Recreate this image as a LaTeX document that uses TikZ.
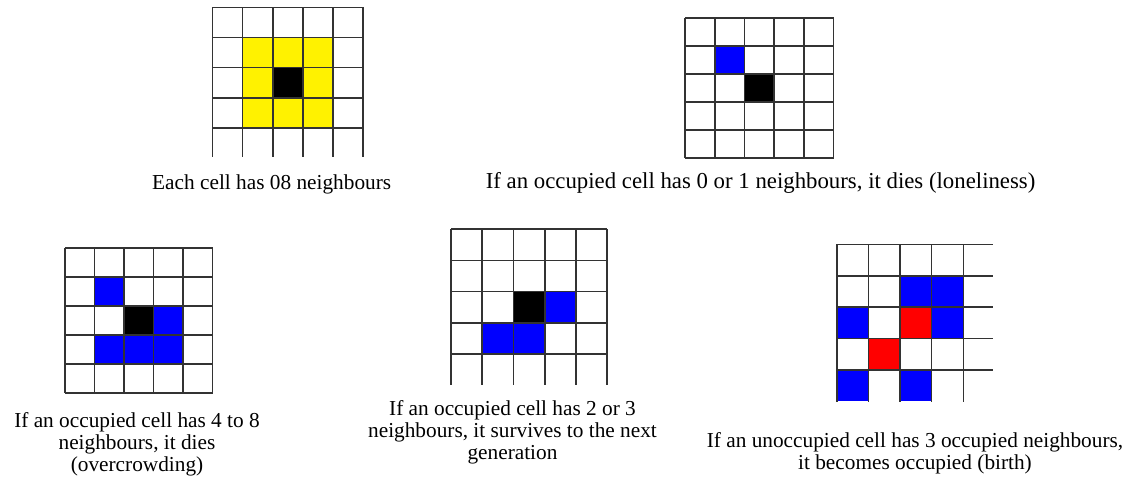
\documentclass[tikz,border=0pt]{standalone}
\usepackage{fontspec}
\setmainfont{Liberation Serif}
\tikzset{
  gridline/.style={draw=black!80, line width=1.6pt},
  lbl/.style={font=\fontsize{21.3}{22}\selectfont, align=center, inner sep=0pt},
  lblbig/.style={lbl, font=\fontsize{22.8}{23}\selectfont},
  yel/.style={fill=yellow},
  blu/.style={fill=blue},
  rd/.style={fill=red},
  blk/.style={fill=black}
}
% cell fill: #1 style, #2 x0, #3 y0, #4 w, #5 h, #6 col, #7 row
\newcommand{\gcell}[7]{\fill[#1] ({#2+#6*#4},{#3+#7*#5}) rectangle ++(#4,#5);}
\begin{document}
\begin{tikzpicture}[x=1pt,y=-1pt]
\useasboundingbox (0,0) rectangle (1141,484);
\fill[white] (0,0) rectangle (1141,484);

% ---------- Grid 1: 8 neighbours ----------
\def\gx{212.5}\def\gy{7.5}\def\gw{30.1}\def\gh{30.1}
\foreach \c/\r in {0/0,1/0,2/0,0/1,2/1,0/2,1/2,2/2}{\gcell{yel}{\gx}{\gy}{\gw}{\gh}{(\c+1)}{(\r+1)}}
\gcell{blk}{\gx}{\gy}{\gw}{\gh}{2}{2}
\foreach \i in {0,...,5}{\draw[gridline] ({\gx+\i*\gw},\gy) -- ({\gx+\i*\gw},157);}
\foreach \j in {0,...,4}{\draw[gridline] (\gx,{\gy+\j*\gh}) -- ({\gx+5*\gw},{\gy+\j*\gh});}

% ---------- Grid 2: loneliness ----------
\def\gx{685}\def\gy{18}\def\gw{29.7}\def\gh{27.95}
\gcell{blu}{\gx}{\gy}{\gw}{\gh}{1}{1}
\gcell{blk}{\gx}{\gy}{\gw}{\gh}{2}{2}
\foreach \i in {0,...,5}{\draw[gridline] ({\gx+\i*\gw},\gy) -- ({\gx+\i*\gw},{\gy+5*\gh});}
\foreach \j in {0,...,5}{\draw[gridline] (\gx,{\gy+\j*\gh}) -- ({\gx+5*\gw},{\gy+\j*\gh});}

% ---------- Grid 3: overcrowding ----------
\def\gx{65}\def\gy{247.7}\def\gw{29.5}\def\gh{29.1}
\foreach \c/\r in {1/1,3/2,1/3,2/3,3/3}{\gcell{blu}{\gx}{\gy}{\gw}{\gh}{\c}{\r}}
\gcell{blk}{\gx}{\gy}{\gw}{\gh}{2}{2}
\foreach \i in {0,...,5}{\draw[gridline] ({\gx+\i*\gw},\gy) -- ({\gx+\i*\gw},{\gy+5*\gh});}
\foreach \j in {0,...,5}{\draw[gridline] (\gx,{\gy+\j*\gh}) -- ({\gx+5*\gw},{\gy+\j*\gh});}

% ---------- Grid 4: survival ----------
\def\gx{451}\def\gy{229}\def\gw{31.25}\def\gh{31.3}
\foreach \c/\r in {3/2,1/3,2/3}{\gcell{blu}{\gx}{\gy}{\gw}{\gh}{\c}{\r}}
\gcell{blk}{\gx}{\gy}{\gw}{\gh}{2}{2}
\foreach \i in {0,...,5}{\draw[gridline] ({\gx+\i*\gw},\gy) -- ({\gx+\i*\gw},385);}
\foreach \j in {0,...,4}{\draw[gridline] (\gx,{\gy+\j*\gh}) -- ({\gx+5*\gw},{\gy+\j*\gh});}

% ---------- Grid 5: birth ----------
\def\gx{836.7}\def\gy{244.3}\def\gw{31.65}\def\gh{31.4}
\foreach \c/\r in {2/1,3/1,0/2,3/2,0/4,2/4}{\gcell{blu}{\gx}{\gy}{\gw}{\gh}{\c}{\r}}
\foreach \c/\r in {2/2,1/3}{\gcell{rd}{\gx}{\gy}{\gw}{\gh}{\c}{\r}}
\foreach \i in {0,...,4}{\draw[gridline] ({\gx+\i*\gw},\gy) -- ({\gx+\i*\gw},401.7);}
\foreach \j in {0,...,4}{\draw[gridline] (\gx,{\gy+\j*\gh}) -- (993,{\gy+\j*\gh});}

% ---------- Captions ----------
\node[lbl] (t1) at (271.7,184) {Each cell has 08 neighbours};
\node[lblbig] (t2) at (760.6,182.5) {If an occupied cell has 0 or 1 neighbours, it dies (loneliness)};
\node[lbl] (t3) at (137,444.5) {If an occupied cell has 4 to 8\\neighbours, it dies\\(overcrowding)};
\node[lbl] (t4) at (512.5,432) {If an occupied cell has 2 or 3\\neighbours, it survives to the next\\generation};
\node[lbl] (t5) at (915,453) {If an unoccupied cell has 3 occupied neighbours,\\it becomes occupied (birth)};
\end{tikzpicture}
\end{document}
